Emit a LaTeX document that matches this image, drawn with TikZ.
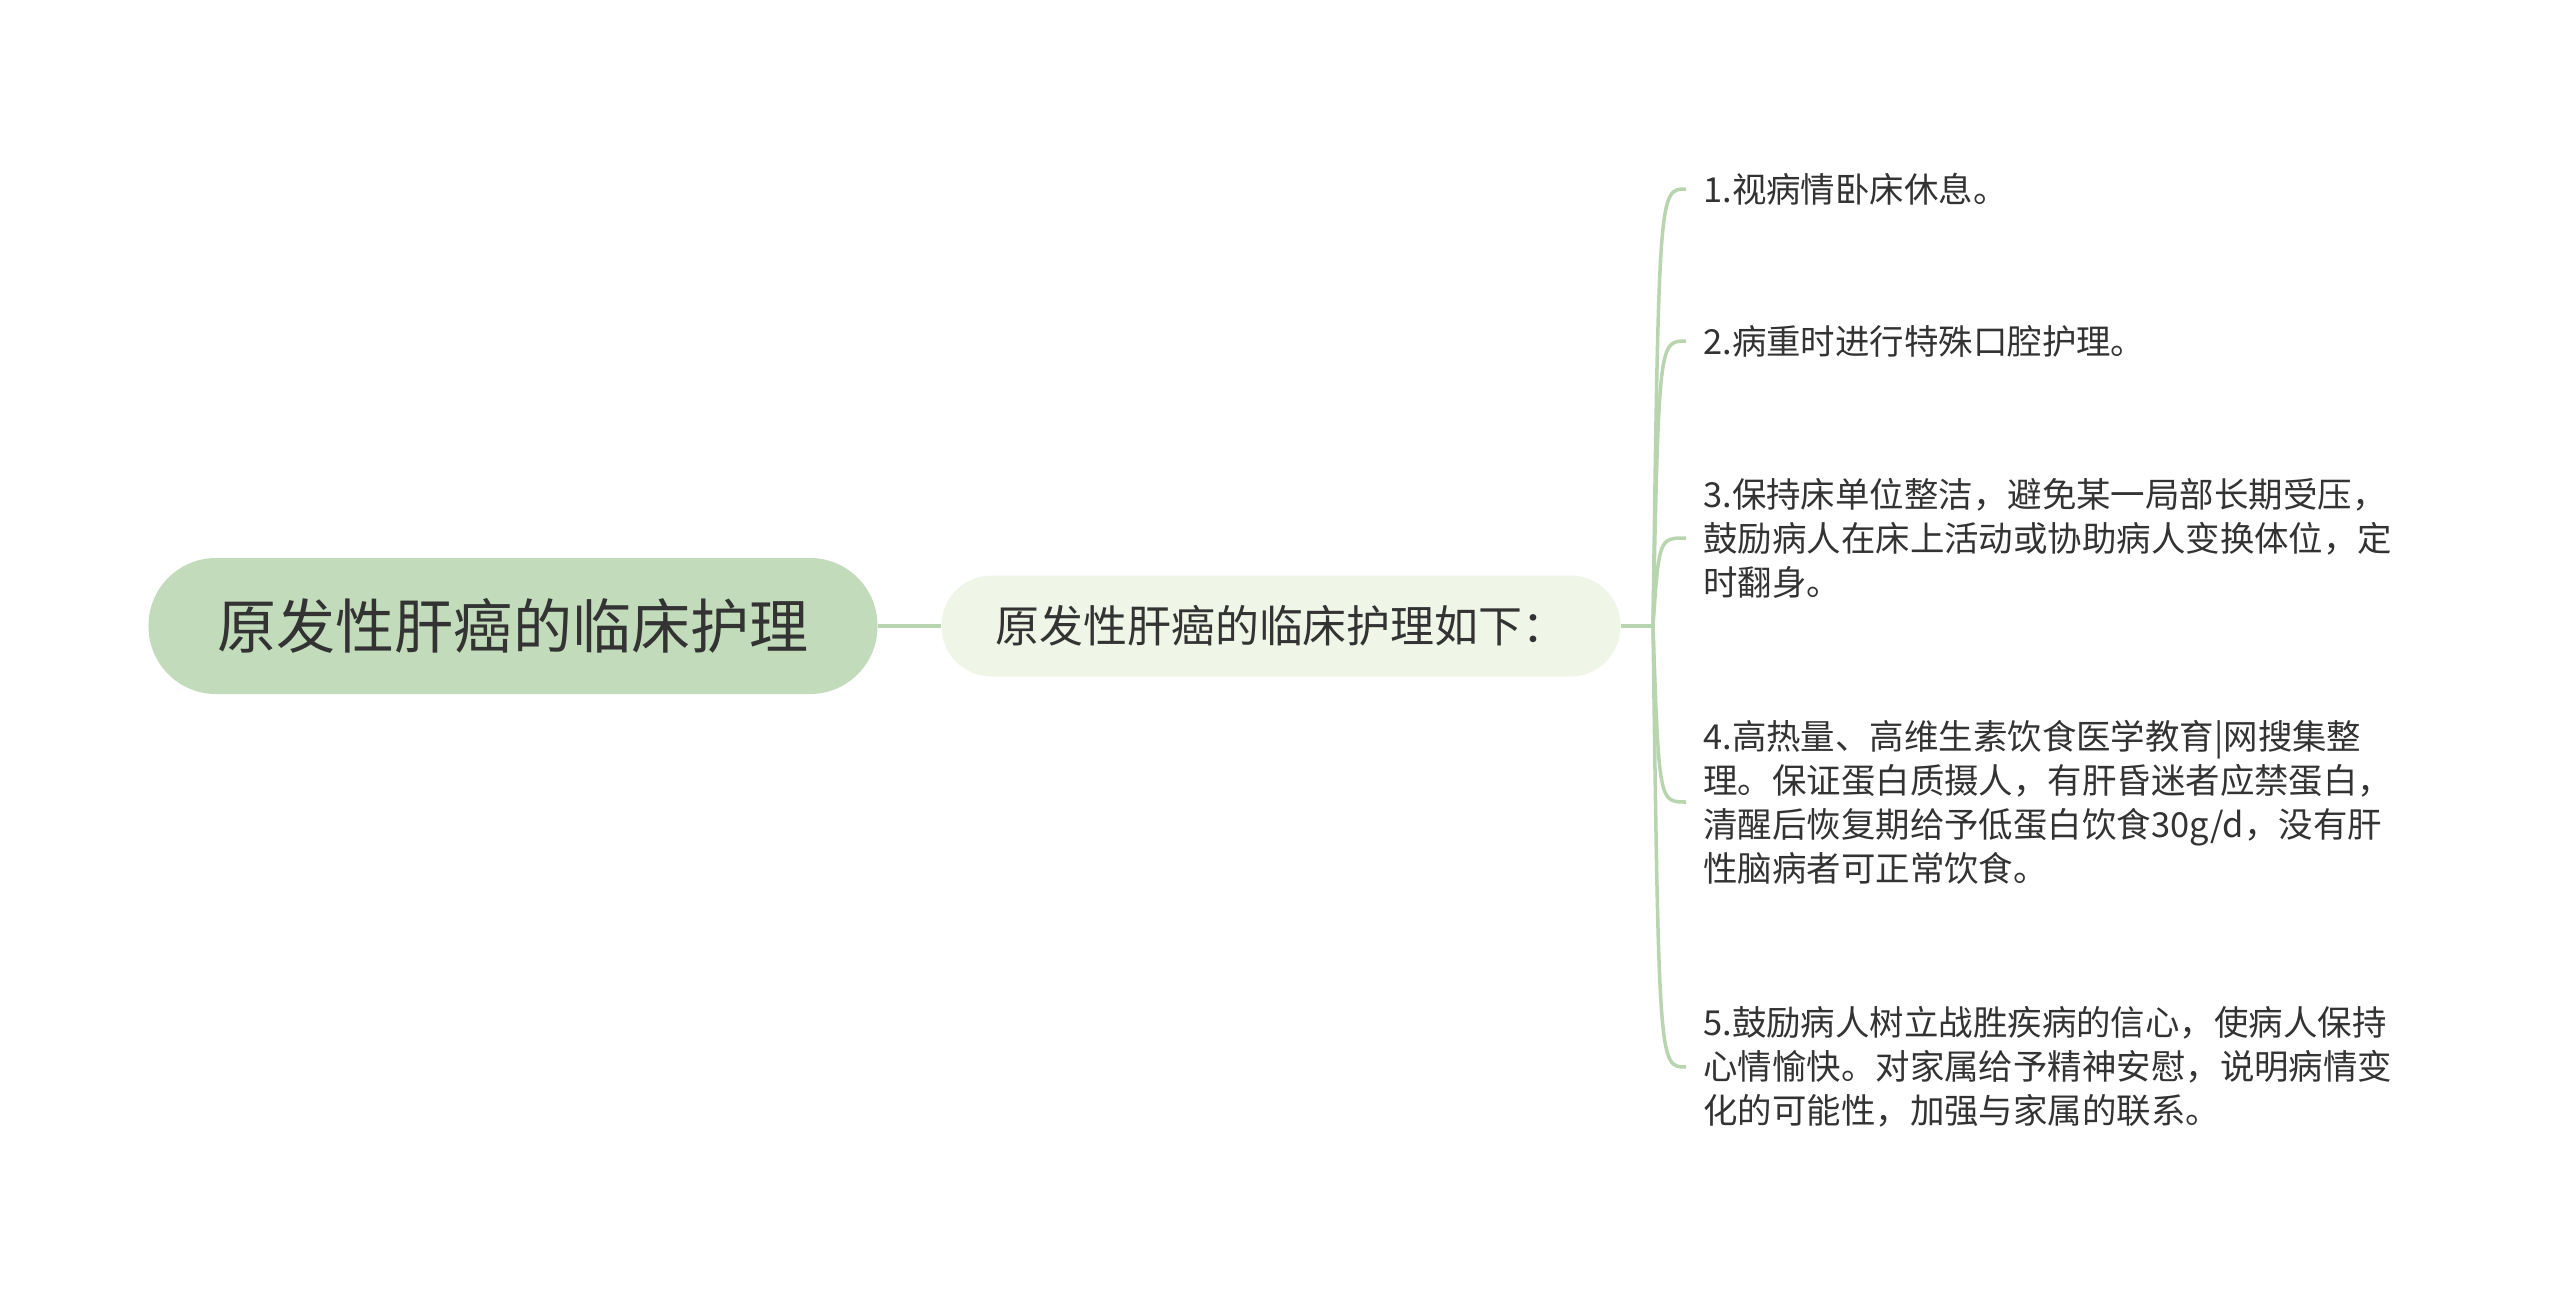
\documentclass[tikz,border=0pt]{standalone}
\usepackage{fontspec}
\newfontfamily\cjk{Noto Sans CJK SC}
\usepackage{tikz}
\usetikzlibrary{calc}
\definecolor{rootgreen}{HTML}{C2DBBA}
\definecolor{subgreen}{HTML}{EFF6E8}
\definecolor{linegreen}{HTML}{B9D5AF}
\definecolor{textgray}{HTML}{333333}
\tikzstyle{root} = [rounded corners=13.5mm, fill=rootgreen, minimum width=145.8mm, minimum height=27.2mm, text=textgray, font=\cjk\fontsize{33.6pt}{40pt}\selectfont]
\tikzstyle{sub} = [rounded corners=10mm, fill=subgreen, minimum width=135.8mm, minimum height=20.2mm, text=textgray, font=\cjk\fontsize{25pt}{30pt}\selectfont]
\tikzstyle{leaf} = [anchor=west, align=left, inner xsep=3.4mm, inner ysep=0pt, text=textgray, font=\cjk\fontsize{19.6pt}{25pt}\selectfont]
\tikzstyle{link} = [draw=linegreen, line width=2.6pt]
\tikzstyle{twig} = [draw=linegreen, line width=2pt]

\begin{document}
\begin{tikzpicture}[x=0.2mm, y=-0.2mm]
			\fill[white] (0,0) rectangle (2560,1297);
			\useasboundingbox (0,0) rectangle (2560,1297);
			\node[root] (care) at (513,626) {原发性肝癌的临床护理};
			\node[sub] (intro) at (1281,626) {原发性肝癌的临床护理如下：};
			\coordinate (fork) at (1653,626);
			\node[leaf] (step1) at (1686,189) {1.视病情卧床休息。};
			\node[leaf] (step2) at (1686,341) {2.病重时进行特殊口腔护理。};
			\node[leaf] (step3) at (1686,538) {3.保持床单位整洁，避免某一局部长期受压，\\鼓励病人在床上活动或协助病人变换体位，定\\时翻身。};
			\node[leaf] (step4) at (1686,802) {4.高热量、高维生素饮食医学教育|网搜集整\\理。保证蛋白质摄人，有肝昏迷者应禁蛋白，\\清醒后恢复期给予低蛋白饮食30g/d，没有肝\\性脑病者可正常饮食。};
			\node[leaf] (step5) at (1686,1067) {5.鼓励病人树立战胜疾病的信心，使病人保持\\心情愉快。对家属给予精神安慰，说明病情变\\化的可能性，加强与家属的联系。};
			\draw[link] (care) -- (intro);
			\draw[twig] (intro) -- (fork);
			\foreach \n in {1,...,5}
				\draw[twig] (fork) .. controls ($(fork |- step\n.west)+(6,0)$) .. (step\n.west);
		\end{tikzpicture}
\end{document}
